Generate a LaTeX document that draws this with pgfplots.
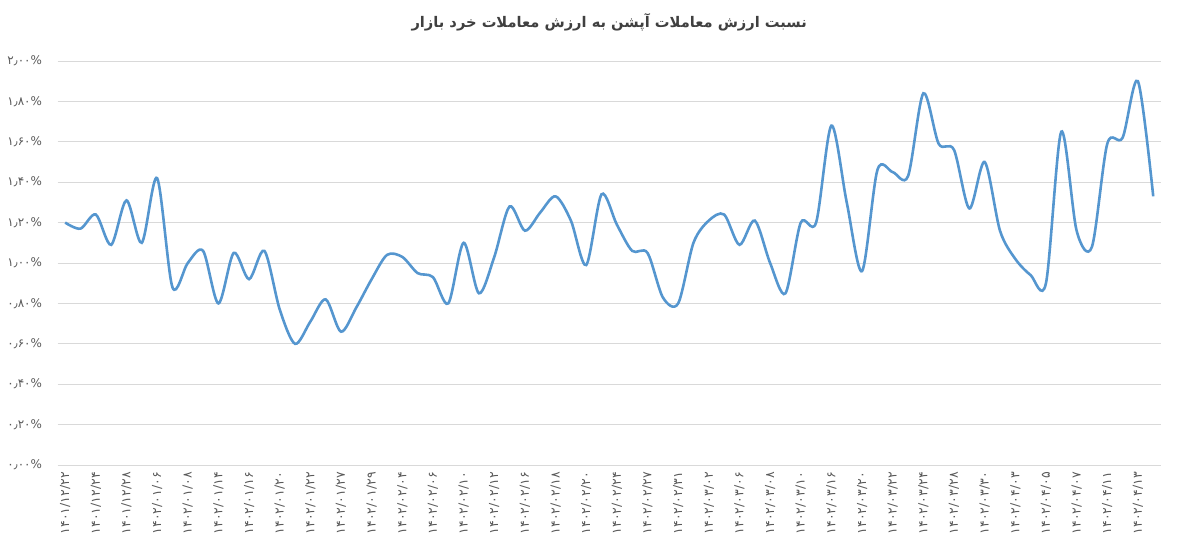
\documentclass[border=0pt]{standalone}
\usepackage{fontspec}
\usepackage{pgfplots}
\pgfplotsset{compat=1.18}
\setmainfont{DejaVu Sans}
\newfontfamily\arabicfont[Script=Arabic]{DejaVu Sans}
\TeXXeTstate=1
\definecolor{lineblue}{HTML}{5596CF}
\definecolor{gridgray}{HTML}{D9D9D9}
\definecolor{txtgray}{HTML}{595959}
\definecolor{titlegray}{HTML}{404040}
\pgfplotstableread{
i v
0 1.20
1 1.17
2 1.24
3 1.09
4 1.31
5 1.10
6 1.42
7 0.88
8 1.00
9 1.06
10 0.80
11 1.05
12 0.92
13 1.06
14 0.77
15 0.60
16 0.71
17 0.82
18 0.66
19 0.78
20 0.92
21 1.04
22 1.03
23 0.95
24 0.93
25 0.80
26 1.10
27 0.85
28 1.03
29 1.28
30 1.16
31 1.25
32 1.33
33 1.21
34 0.99
35 1.34
36 1.19
37 1.06
38 1.05
39 0.83
40 0.80
41 1.10
42 1.21
43 1.24
44 1.09
45 1.21
46 1.00
47 0.85
48 1.20
49 1.20
50 1.68
51 1.30
52 0.96
53 1.46
54 1.45
55 1.43
56 1.84
57 1.59
58 1.56
59 1.27
60 1.50
61 1.16
62 1.02
63 0.94
64 0.90
65 1.65
66 1.16
67 1.08
68 1.59
69 1.62
70 1.90
71 1.33
}\ratio
\begin{document}
\begin{tikzpicture}
\useasboundingbox (-57.5bp,-81bp) rectangle (1121.5bp,465bp);
\begin{axis}[
  scale only axis,
  width=1103.5bp, height=404bp,
  xmin=-0.5, xmax=71.5, ymin=0, ymax=2,
  axis line style={draw=none},
  ymajorgrids,
  grid style={gridgray, line width=0.9bp},
  major tick length=0,
  xtick={0,2,...,70},
  xticklabels={۱۴۰۱/۱۲/۲۲,۱۴۰۱/۱۲/۲۴,۱۴۰۱/۱۲/۲۸,۱۴۰۲/۰۱/۰۶,۱۴۰۲/۰۱/۰۸,۱۴۰۲/۰۱/۱۴,۱۴۰۲/۰۱/۱۶,۱۴۰۲/۰۱/۲۰,۱۴۰۲/۰۱/۲۲,۱۴۰۲/۰۱/۲۷,۱۴۰۲/۰۱/۲۹,۱۴۰۲/۰۲/۰۴,۱۴۰۲/۰۲/۰۶,۱۴۰۲/۰۲/۱۰,۱۴۰۲/۰۲/۱۲,۱۴۰۲/۰۲/۱۶,۱۴۰۲/۰۲/۱۸,۱۴۰۲/۰۲/۲۰,۱۴۰۲/۰۲/۲۴,۱۴۰۲/۰۲/۲۷,۱۴۰۲/۰۲/۳۱,۱۴۰۲/۰۳/۰۲,۱۴۰۲/۰۳/۰۶,۱۴۰۲/۰۳/۰۸,۱۴۰۲/۰۳/۱۰,۱۴۰۲/۰۳/۱۶,۱۴۰۲/۰۳/۲۰,۱۴۰۲/۰۳/۲۲,۱۴۰۲/۰۳/۲۴,۱۴۰۲/۰۳/۲۸,۱۴۰۲/۰۳/۳۰,۱۴۰۲/۰۴/۰۳,۱۴۰۲/۰۴/۰۵,۱۴۰۲/۰۴/۰۷,۱۴۰۲/۰۴/۱۱,۱۴۰۲/۰۴/۱۳},
  x tick label style={rotate=90, anchor=east, font=\fontsize{12.5}{14}\selectfont, text=txtgray, inner xsep=7bp, inner ysep=1bp},
  ytick={0,0.2,0.4,0.6,0.8,1,1.2,1.4,1.6,1.8,2},
  yticklabels={۰٫۰۰\%,۰٫۲۰\%,۰٫۴۰\%,۰٫۶۰\%,۰٫۸۰\%,۱٫۰۰\%,۱٫۲۰\%,۱٫۴۰\%,۱٫۶۰\%,۱٫۸۰\%,۲٫۰۰\%},
  y tick label style={anchor=east, xshift=-12bp, font=\fontsize{12}{14}\selectfont, text=txtgray},
  title={\arabicfont\beginR نسبت ارزش معاملات آپشن به ارزش معاملات خرد بازار\endR},
  title style={at={(0.5,1)}, anchor=center, yshift=33bp, font=\bfseries\fontsize{14.7}{18}\selectfont, text=titlegray},
]
\addplot[lineblue, line width=2.6bp, smooth, tension=0.5] table[x=i, y=v] {\ratio};
\end{axis}
\end{tikzpicture}
\end{document}
